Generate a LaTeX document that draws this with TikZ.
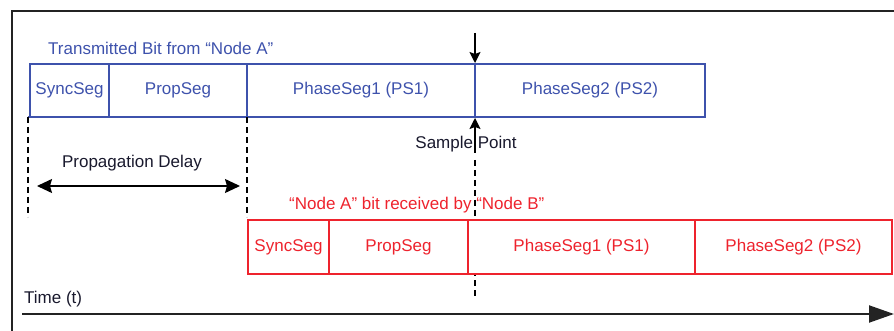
\documentclass[tikz,border=0pt]{standalone}
\usepackage{fontspec}
\setmainfont{Liberation Sans}
\usetikzlibrary{arrows.meta}
\definecolor{segblue}{RGB}{62,82,172}
\definecolor{segred}{RGB}{238,35,45}
\definecolor{framegray}{RGB}{35,35,35}
\definecolor{lbltext}{RGB}{25,25,45}
\begin{document}
\begin{tikzpicture}[x=1pt,y=-1pt,
  seg/.style={draw, rectangle, anchor=north west, inner sep=0pt, outer sep=0pt,
    font=\fontsize{17}{20}\selectfont, line width=1.2pt},
  bseg/.style={seg, draw=segblue, text=segblue, minimum height=53pt},
  rseg/.style={seg, draw=segred, text=segred, fill=white, minimum height=54pt},
  lbl/.style={inner sep=0pt, font=\fontsize{17}{20}\selectfont, text=lbltext},
  dashline/.style={line width=1.2pt, dash pattern=on 6pt off 4pt},
  sptip/.style={-{Stealth[length=11pt,width=11pt,inset=2pt]}},
  ]
\useasboundingbox (0,0) rectangle (894,331);
% frame
\draw[framegray, line width=2pt] (11.5,331) -- (11.5,11.5) -- (894,11.5);

% titles
\node[lbl, text=segblue, anchor=west] (ttl) at (48,48) {Transmitted Bit from “Node A”};

% transmitted bit segments
\node[bseg, minimum width=79pt] (b1) at (30,64) {SyncSeg};
\node[bseg, minimum width=138pt] (b2) at (b1.north east) {PropSeg};
\node[bseg, minimum width=228pt] (b3) at (b2.north east) {PhaseSeg1 (PS1)};
\node[bseg, minimum width=230pt] (b4) at (b3.north east) {PhaseSeg2 (PS2)};
\draw[segblue, line width=1.2pt] (28,117) -- (b1.south west);

% sample point arrows
\coordinate (dtop) at (475,33);
\draw[line width=1.3pt, sptip] (dtop) -- ([yshift=1pt]b4.north west);
\node[lbl, anchor=center] (sp) at (466,144) {Sample Point};
\coordinate (ubot) at (475,153);
\draw[line width=1.3pt, sptip] (ubot) -- ([yshift=-1pt]b4.south west);
\coordinate (dstart) at (475,160);
\coordinate (dend) at (475,297);
\draw[dashline] (dstart) -- (dend);

% propagation delay
\coordinate (pd1) at (28,117);
\coordinate (pd1e) at (28,217);
\coordinate (pd2e) at (247,217);
\draw[dashline] (pd1) -- (pd1e);
\draw[dashline] (b2.south east) -- (pd2e);
\node[lbl] (pd) at (132,163) {Propagation Delay};
\coordinate (pa) at (37,186);
\coordinate (pb) at (240,186);
\draw[line width=1.3pt, {Stealth[length=15pt,width=14pt,inset=2pt]}-{Stealth[length=15pt,width=14pt,inset=2pt]}] (pa) -- (pb);

% received bit
\node[lbl, text=segred, anchor=west] (rttl) at (289,205) {“Node A” bit received by “Node B”};
\node[rseg, minimum width=81pt] (r1) at (248,220) {SyncSeg};
\node[rseg, minimum width=139pt] (r2) at (r1.north east) {PropSeg};
\node[rseg, minimum width=227pt] (r3) at (r2.north east) {PhaseSeg1 (PS1)};
\node[rseg, minimum width=197pt] (r4) at (r3.north east) {PhaseSeg2 (PS2)};
\draw[segred, line width=2.6pt] (r3.north west) -- (r3.south west);

% time axis
\node[lbl, anchor=west] (time) at (24,299) {Time (t)};
\coordinate (t0) at (22,314);
\coordinate (t1) at (894,314);
\draw[framegray, line width=2pt, -{Triangle[length=25pt,width=17pt]}] (t0) -- (t1);
\end{tikzpicture}
\end{document}
